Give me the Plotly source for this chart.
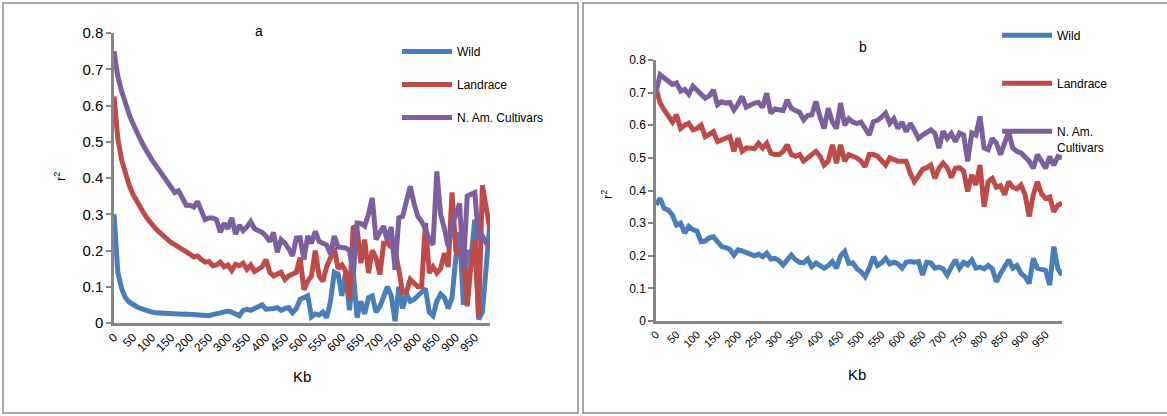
import plotly.graph_objects as go

# ---------------- data ----------------
kb = list(range(0, 1000, 10))  # 100 distance classes (Kb)
x_ticks = list(range(0, 1000, 50))

a_wild = [0.30, 0.14, 0.095, 0.07, 0.058, 0.05, 0.045, 0.04, 0.036, 0.032,
          0.03, 0.028, 0.027, 0.026, 0.025, 0.025, 0.024, 0.025, 0.024, 0.025,
          0.024, 0.022, 0.024, 0.022, 0.021, 0.02, 0.023, 0.025, 0.026, 0.028,
          0.033, 0.03, 0.026, 0.02, 0.035, 0.038, 0.035, 0.04, 0.048, 0.05,
          0.038, 0.038, 0.04, 0.042, 0.035, 0.04, 0.042, 0.028, 0.04, 0.065,
          0.07, 0.075, 0.017, 0.025, 0.022, 0.03, 0.015, 0.06, 0.14, 0.135,
          0.075, 0.14, 0.035, 0.14, 0.015, 0.06, 0.025, 0.07, 0.075, 0.03,
          0.045, 0.075, 0.1, 0.075, 0.005, 0.1, 0.04, 0.08, 0.06, 0.065,
          0.075, 0.085, 0.095, 0.03, 0.02, 0.06, 0.08, 0.07, 0.04, 0.07,
          0.18, 0.25, 0.05, 0.2, 0.18, 0.285, 0.01, 0.03, 0.15, 0.28]

a_land = [0.625, 0.51, 0.45, 0.41, 0.38, 0.355, 0.335, 0.315, 0.30, 0.285,
          0.27, 0.26, 0.25, 0.24, 0.232, 0.222, 0.216, 0.21, 0.205, 0.198,
          0.19, 0.182, 0.185, 0.175, 0.168, 0.17, 0.158, 0.16, 0.168, 0.155,
          0.16, 0.145, 0.162, 0.158, 0.165, 0.148, 0.16, 0.142, 0.15, 0.155,
          0.175, 0.14, 0.13, 0.135, 0.14, 0.12, 0.13, 0.135, 0.14, 0.18,
          0.092, 0.115, 0.13, 0.2, 0.13, 0.115, 0.156, 0.18, 0.207, 0.15,
          0.16, 0.143, 0.064, 0.267, 0.26, 0.165, 0.23, 0.138, 0.2, 0.18,
          0.133, 0.22, 0.22, 0.21, 0.2, 0.147, 0.083, 0.085, 0.12, 0.11,
          0.1, 0.1, 0.276, 0.138, 0.155, 0.138, 0.15, 0.193, 0.155, 0.36,
          0.2, 0.19, 0.18, 0.046, 0.16, 0.23, 0.018, 0.38, 0.32, 0.257]

a_cult = [0.75, 0.68, 0.64, 0.605, 0.575, 0.55, 0.525, 0.505, 0.485, 0.465,
          0.45, 0.435, 0.42, 0.405, 0.39, 0.38, 0.36, 0.365, 0.345, 0.325,
          0.325, 0.32, 0.335, 0.31, 0.285, 0.29, 0.29, 0.285, 0.25, 0.275,
          0.26, 0.29, 0.245, 0.27, 0.255, 0.265, 0.28, 0.26, 0.255, 0.25,
          0.24, 0.225, 0.25, 0.195, 0.23, 0.22, 0.205, 0.185, 0.234, 0.235,
          0.175, 0.24, 0.22, 0.253, 0.225, 0.22, 0.215, 0.19, 0.24, 0.21,
          0.21, 0.207, 0.2, 0.13, 0.276, 0.275, 0.267, 0.3, 0.345, 0.23,
          0.25, 0.267, 0.225, 0.265, 0.147, 0.29, 0.294, 0.33, 0.377, 0.33,
          0.294, 0.28, 0.26, 0.23, 0.216, 0.418, 0.3, 0.26, 0.21, 0.267,
          0.3, 0.33, 0.147, 0.35, 0.355, 0.36, 0.23, 0.24, 0.22, 0.21]

b_wild = [0.356, 0.376, 0.345, 0.34, 0.325, 0.294, 0.30, 0.27, 0.29, 0.28,
          0.275, 0.243, 0.245, 0.255, 0.258, 0.24, 0.228, 0.225, 0.22, 0.202,
          0.218, 0.215, 0.21, 0.207, 0.2, 0.205, 0.197, 0.208, 0.19, 0.192,
          0.185, 0.172, 0.19, 0.202, 0.188, 0.18, 0.178, 0.19, 0.167, 0.178,
          0.17, 0.162, 0.17, 0.182, 0.162, 0.2, 0.213, 0.177, 0.178, 0.16,
          0.151, 0.136, 0.162, 0.197, 0.17, 0.178, 0.192, 0.175, 0.18, 0.175,
          0.162, 0.18, 0.182, 0.18, 0.182, 0.141, 0.18, 0.178, 0.162, 0.165,
          0.16, 0.141, 0.165, 0.187, 0.162, 0.18, 0.172, 0.187, 0.162, 0.165,
          0.16, 0.17, 0.16, 0.12, 0.145, 0.165, 0.187, 0.162, 0.17, 0.146,
          0.135, 0.115, 0.192, 0.162, 0.16, 0.155, 0.11, 0.228, 0.16, 0.141]

b_land = [0.714, 0.668, 0.647, 0.63, 0.61, 0.632, 0.59, 0.6, 0.606, 0.586,
          0.59, 0.6, 0.565, 0.572, 0.58, 0.55, 0.555, 0.56, 0.565, 0.52,
          0.56, 0.52, 0.53, 0.53, 0.528, 0.545, 0.53, 0.545, 0.514, 0.51,
          0.51, 0.52, 0.54, 0.51, 0.505, 0.51, 0.49, 0.5, 0.51, 0.52,
          0.505, 0.478, 0.49, 0.54, 0.484, 0.54, 0.49, 0.51, 0.505, 0.5,
          0.49, 0.473, 0.51, 0.51, 0.505, 0.49, 0.478, 0.5, 0.495, 0.49,
          0.49, 0.49, 0.453, 0.427, 0.445, 0.465, 0.47, 0.478, 0.437, 0.468,
          0.484, 0.47, 0.44, 0.468, 0.47, 0.46, 0.397, 0.448, 0.417, 0.478,
          0.35, 0.427, 0.437, 0.41, 0.415, 0.387, 0.427, 0.41, 0.405, 0.417,
          0.387, 0.32, 0.387, 0.427, 0.39, 0.376, 0.38, 0.335, 0.355, 0.361]

b_cult = [0.70, 0.755, 0.745, 0.735, 0.725, 0.73, 0.705, 0.71, 0.695, 0.72,
          0.705, 0.695, 0.683, 0.69, 0.708, 0.663, 0.672, 0.668, 0.67, 0.647,
          0.665, 0.688, 0.655, 0.662, 0.668, 0.67, 0.655, 0.698, 0.637, 0.65,
          0.648, 0.645, 0.678, 0.652, 0.645, 0.64, 0.617, 0.63, 0.632, 0.673,
          0.625, 0.59, 0.652, 0.61, 0.59, 0.668, 0.6, 0.62, 0.61, 0.605,
          0.61, 0.586, 0.57, 0.611, 0.615, 0.625, 0.637, 0.606, 0.62, 0.59,
          0.61, 0.58, 0.606, 0.585, 0.56, 0.57, 0.58, 0.586, 0.575, 0.53,
          0.582, 0.56, 0.575, 0.55, 0.576, 0.57, 0.489, 0.576, 0.57, 0.627,
          0.53, 0.525, 0.56, 0.545, 0.51, 0.545, 0.58, 0.53, 0.52, 0.515,
          0.5, 0.49, 0.468, 0.51, 0.49, 0.468, 0.504, 0.478, 0.504, 0.5]

COLORS = {"Wild": "#4A7EBB", "Landrace": "#BE4B48", "Cult": "#7D5FA0"}
FONT = "Liberation Sans, Arial, sans-serif"
W, H = 1167, 416

fig = go.Figure()

series_a = [("Wild", a_wild, COLORS["Wild"]),
            ("Landrace", a_land, COLORS["Landrace"]),
            ("N. Am. Cultivars", a_cult, COLORS["Cult"])]
series_b = [("Wild", b_wild, COLORS["Wild"]),
            ("Landrace", b_land, COLORS["Landrace"]),
            ("N. Am.<br>Cultivars", b_cult, COLORS["Cult"])]

for i, (name, ys, col) in enumerate(series_a):
    fig.add_trace(go.Scatter(x=kb, y=ys, mode="lines", name=name,
                             line=dict(color=col, width=5),
                             xaxis="x", yaxis="y", legend="legend",
                             legendgroup=f"a{i}", cliponaxis=False))
for i, (name, ys, col) in enumerate(series_b):
    fig.add_trace(go.Scatter(x=kb, y=ys, mode="lines", name=name,
                             line=dict(color=col, width=5),
                             xaxis="x2", yaxis="y2", legend="legend2",
                             legendgroup=f"b{i}", cliponaxis=False))

def px_x(p):
    return p / W

def px_y(p):
    return 1 - p / H

axis_common = dict(showgrid=False, zeroline=False, showline=True,
                   linecolor="#868686", linewidth=2.5, layer="below traces",
                   automargin=False)

def label(text, x, y, size, angle=0):
    return dict(text=text, x=px_x(x), y=px_y(y), xref="paper", yref="paper",
                xanchor="center", yanchor="middle", showarrow=False,
                textangle=angle, font=dict(size=size))

fig.update_layout(
    width=W, height=H,
    margin=dict(l=0, r=0, t=0, b=0, pad=0, autoexpand=False),
    paper_bgcolor="white", plot_bgcolor="white",
    font=dict(family=FONT, color="#000000"),
    xaxis=dict(domain=[px_x(114), px_x(490)], range=[0, 990],
               tickvals=x_ticks, tickangle=-45, ticks="",
               tickfont=dict(size=12), anchor="y", **axis_common),
    yaxis=dict(domain=[px_y(323), px_y(33)], range=[0, 0.8], dtick=0.1,
               ticks="outside", ticklen=5, tickcolor="#868686", tickwidth=1.5,
               tickfont=dict(size=15), anchor="x", **axis_common),
    xaxis2=dict(domain=[px_x(656), px_x(1062)], range=[0, 990],
                tickvals=x_ticks, tickangle=-45, ticks="",
                tickfont=dict(size=11), anchor="y2", **axis_common),
    yaxis2=dict(domain=[px_y(321), px_y(60)], range=[0, 0.8], dtick=0.1,
                ticks="outside", ticklen=5, tickcolor="#868686", tickwidth=1.5,
                tickfont=dict(size=12), anchor="x2", **axis_common),
    legend=dict(x=px_x(397), y=px_y(37), xanchor="left", yanchor="top",
                bgcolor="rgba(0,0,0,0)", font=dict(size=12),
                tracegroupgap=14, itemwidth=50),
    legend2=dict(x=px_x(997), y=px_y(21), xanchor="left", yanchor="top",
                 bgcolor="rgba(0,0,0,0)", font=dict(size=12),
                 tracegroupgap=29, itemwidth=50, valign="top"),
    shapes=[
        dict(type="rect", xref="paper", yref="paper",
             x0=px_x(3), x1=px_x(578), y0=px_y(413), y1=px_y(3),
             line=dict(color="#8c8c8c", width=1.5), layer="below"),
        dict(type="rect", xref="paper", yref="paper",
             x0=px_x(583), x1=px_x(1175), y0=px_y(413), y1=px_y(3),
             line=dict(color="#8c8c8c", width=1.5), layer="below"),
    ],
    annotations=[
        label("a", 259, 31, 14),
        label("b", 863, 47, 14),
        label("r<sup>2</sup>", 60, 177, 13, -90),
        label("r<sup>2</sup>", 607, 195, 13, -90),
        label("Kb", 302, 376, 15),
        label("Kb", 857, 374, 15),
    ],
)

fig.write_html("out.html",
               config={"displayModeBar": False},
               post_script="document.body.style.margin='0';"
                           "document.body.style.overflow='hidden';")
